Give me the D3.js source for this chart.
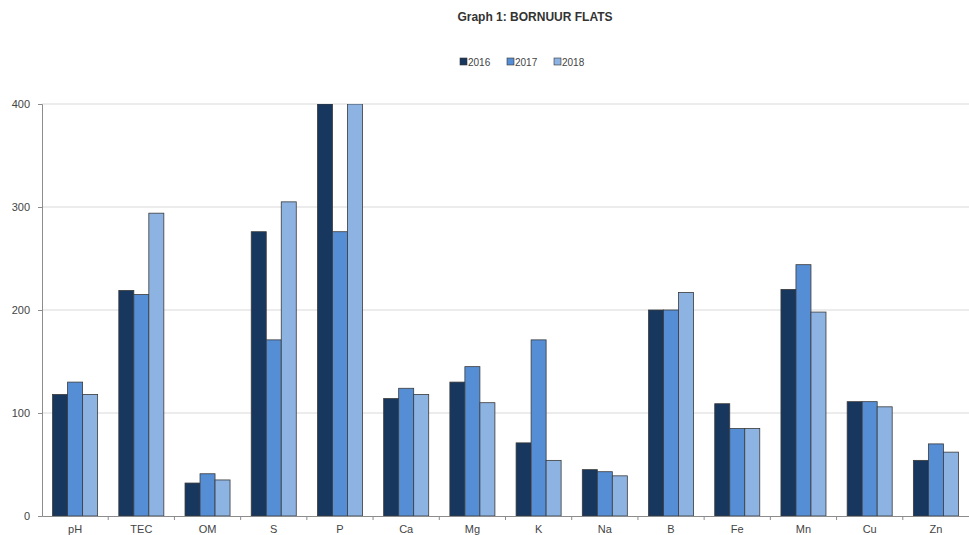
<!DOCTYPE html>
<html><head><meta charset="utf-8">
<script src="https://cdn.jsdelivr.net/npm/d3@7"></script>
<style>body{margin:0;background:#fff;font-family:"Liberation Sans",Arial,sans-serif;}</style>
</head><body><svg id="c" width="969" height="535"></svg>
<script>
const categories = ["pH","TEC","OM","S","P","Ca","Mg","K","Na","B","Fe","Mn","Cu","Zn"];
const seriesNames = ["2016","2017","2018"];
const v2016 = [118,219,32,276,440,114,130,71,45,200,109,220,111,54];
const v2017 = [130,215,41,171,276,124,145,171,43,200,85,244,111,70];
const v2018 = [118,294,35,305,460,118,110,54,39,217,85,198,106,62];
const yTicks = [0,100,200,300,400];
const colors = ["#17375e","#558ed5","#8db3e2"];

const svg = d3.select("#c");
const m = {l:42, r:0, t:104, b:19};
const W = 969, H = 535;
const x = d3.scaleBand().domain(categories).range([m.l, W-m.r]).paddingInner(0.32).paddingOuter(0.16);
const xs = d3.scaleBand().domain(seriesNames).range([0, x.bandwidth()]);
const y = d3.scaleLinear().domain([0,400]).range([H-m.b, m.t]);
const x0 = d3.scaleBand().domain(categories).range([m.l, W-m.r]);

// gridlines
svg.append("g").selectAll("line").data(yTicks.filter(d=>d>0)).join("line")
  .attr("x1", m.l).attr("x2", W-m.r).attr("y1", d=>y(d)).attr("y2", d=>y(d))
  .attr("stroke","#d9d9d9").attr("stroke-width",1);

// bars
const data = [v2016,v2017,v2018];
svg.append("clipPath").attr("id","pc").append("rect")
  .attr("x",m.l).attr("y",m.t).attr("width",W-m.r-m.l).attr("height",H-m.b-m.t);
const gBars = svg.append("g").attr("clip-path","url(#pc)");
seriesNames.forEach((s,i)=>{
  gBars.append("g").selectAll("rect").data(categories).join("rect")
    .attr("x", c=>x(c)+xs(s))
    .attr("width", xs.bandwidth())
    .attr("y", (c,j)=>y(Math.min(data[i][j],400)))
    .attr("height", (c,j)=>y(0)-y(Math.min(data[i][j],400)))
    .attr("fill", colors[i]).attr("stroke","#3a3a3a").attr("stroke-width",0.8);
});

// y axis
const ya = svg.append("g").attr("transform",`translate(${m.l},0)`)
  .call(d3.axisLeft(y).tickValues(yTicks).tickSize(4).tickPadding(8));
ya.select(".domain").attr("stroke","#8c8c8c");
ya.selectAll(".tick line").attr("stroke","#8c8c8c");
ya.selectAll("text").attr("font-size",11).attr("fill","#444").attr("font-family","Liberation Sans, Arial, sans-serif");

// x axis
const xa = svg.append("g").attr("transform",`translate(0,${y(0)})`)
  .call(d3.axisBottom(x0).tickSize(0).tickPadding(9));
xa.select(".domain").attr("stroke","#8c8c8c");
xa.selectAll("text").attr("font-size",11).attr("fill","#444").attr("font-family","Liberation Sans, Arial, sans-serif");
svg.append("g").selectAll("line").data(categories.slice(1)).join("line")
  .attr("x1",c=>x0(c)).attr("x2",c=>x0(c)).attr("y1",y(0)).attr("y2",y(0)+4)
  .attr("stroke","#8c8c8c");

// title
svg.append("text").attr("x",535).attr("y",21).attr("text-anchor","middle")
  .attr("font-size",12).attr("font-weight","bold").attr("fill","#333").text("Graph 1: BORNUUR FLATS");

// legend
const lx = [460,507,554];
const lg = svg.append("g");
seriesNames.forEach((s,i)=>{
  lg.append("rect").attr("x",lx[i]).attr("y",58).attr("width",7).attr("height",7)
    .attr("fill",colors[i]).attr("stroke","#333").attr("stroke-width",0.6);
  lg.append("text").attr("x",lx[i]+8).attr("y",65.5).attr("font-size",10).attr("fill","#444").text(s);
});
</script></body></html>
